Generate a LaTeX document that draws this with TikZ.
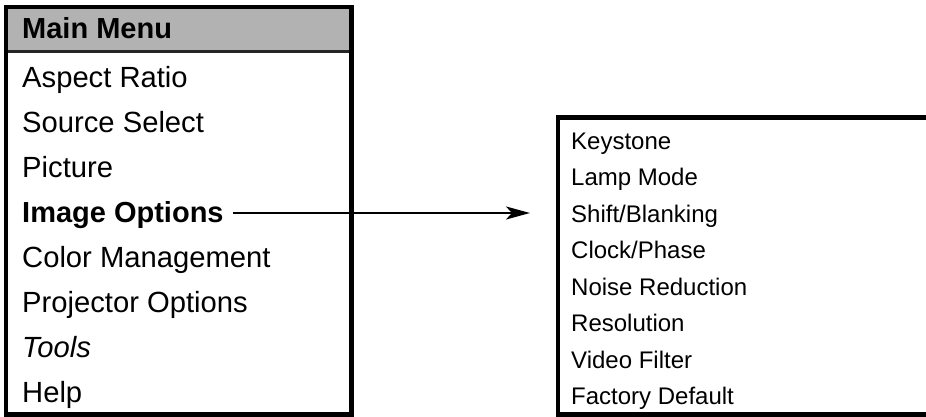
\documentclass[tikz,border=0pt]{standalone}
\usepackage{fontspec}
\setmainfont{Liberation Sans}
\usetikzlibrary{arrows.meta}
\begin{document}
\begin{tikzpicture}[x=1pt,y=-1pt,
  leftitem/.style={anchor=base west,inner sep=0pt,font=\fontsize{29.2}{31}\selectfont},
  rightitem/.style={anchor=base west,inner sep=0pt,font=\fontsize{24}{26}\selectfont},
  menubox/.style={draw=black,line width=4.5pt},
  headerfill/.style={fill=black!30},
  link/.style={line width=2pt,-{Stealth[length=24pt,width=13pt,inset=6pt]}}]
\useasboundingbox (0,0) rectangle (926,417);
% left menu
\fill[headerfill] (6,7) rectangle (351,51);
\draw[line width=3pt,black!85] (6,51.5) -- (351,51.5);
\draw[menubox] (6,7) rectangle (351.5,414.5);
\node[leftitem,font=\fontsize{29}{31}\selectfont\bfseries] (hdr) at (22,38.3) {Main Menu};
\node[leftitem] (l1) at (22,87.3) {Aspect Ratio};
\node[leftitem] (l2) at (22,132.3) {Source Select};
\node[leftitem] (l3) at (22,177.3) {Picture};
\node[leftitem,font=\fontsize{29}{31}\selectfont\bfseries] (l4) at (22,222.3) {Image Options};
\node[leftitem] (l5) at (22,267.3) {Color Management};
\node[leftitem] (l6) at (22,312.3) {Projector Options};
\node[leftitem,font=\fontsize{29.2}{31}\selectfont\itshape] (l7) at (22,357.3) {Tools};
\node[leftitem] (l8) at (22,402.3) {Help};
% right submenu
\draw[menubox] (940,117.5) -- (558,117.5) -- (558,414.5) -- (940,414.5);
\node[rightitem] (r1) at (571,149.5) {Keystone};
\node[rightitem] (r2) at (571,185.9) {Lamp Mode};
\node[rightitem] (r3) at (571,222.4) {Shift/Blanking};
\node[rightitem] (r4) at (571,258.8) {Clock/Phase};
\node[rightitem] (r5) at (571,295.3) {Noise Reduction};
\node[rightitem] (r6) at (571,331.7) {Resolution};
\node[rightitem] (r7) at (571,368.2) {Video Filter};
\node[rightitem] (r8) at (571,404.6) {Factory Default};
% connector
\coordinate (arrowend) at (530,213);
\coordinate (arrowstart) at (233,213);
\draw[link] (arrowstart) -- (arrowend);
\end{tikzpicture}
\end{document}
